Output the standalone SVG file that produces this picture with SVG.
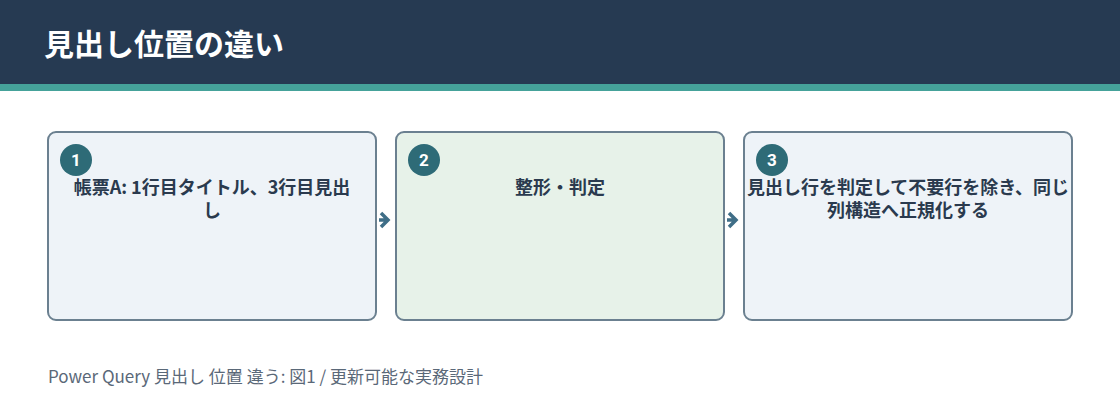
<svg xmlns="http://www.w3.org/2000/svg" width="1120" height="420" viewBox="0 0 1120 420">
<style>
.box{stroke:#6b8090;stroke-width:2}
.b1{fill:#eef3f8}
.b2{fill:#e7f2e9}
.badge{fill:#2e6b77}
.num{font-family:"Roboto","Liberation Sans",sans-serif;font-size:17px;font-weight:bold;fill:#ffffff;text-anchor:middle}
.lbl{font-family:"Noto Sans CJK JP","Noto Sans",sans-serif;font-size:18px;font-weight:bold;fill:#2a3a4e;text-anchor:middle}
.conn{stroke:#3f6e87;stroke-width:3.5;fill:none;stroke-linejoin:miter}
</style>
<rect x="0" y="0" width="1120" height="84" fill="#263a52"/>
<rect x="0" y="84" width="1120" height="7" fill="#45a29a"/>
<text x="44" y="55" font-family="Noto Sans CJK JP, Noto Sans, sans-serif" font-size="30" font-weight="bold" fill="#ffffff">見出し位置の違い</text>
<g id="connectors">
<path class="conn" d="M381,213 L388,220 L381,227 M379,220 L387,220"/>
<path class="conn" d="M729,213 L736,220 L729,227 M727,220 L735,220"/>
</g>
<g id="node1">
<rect class="box b1" x="48" y="132" width="328" height="188" rx="8"/>
<circle class="badge" cx="76" cy="160" r="16"/>
<text class="num" x="76" y="166">1</text>
<text class="lbl" x="212" y="194">帳票A: 1行目タイトル、3行目見出</text>
<text class="lbl" x="212" y="217">し</text>
</g>
<g id="node2">
<rect class="box b2" x="396" y="132" width="328" height="188" rx="8"/>
<circle class="badge" cx="424" cy="160" r="16"/>
<text class="num" x="424" y="166">2</text>
<text class="lbl" x="560" y="194">整形・判定</text>
</g>
<g id="node3">
<rect class="box b1" x="744" y="132" width="328" height="188" rx="8"/>
<circle class="badge" cx="772" cy="160" r="16"/>
<text class="num" x="772" y="166">3</text>
<text class="lbl" x="908" y="194">見出し行を判定して不要行を除き、同じ</text>
<text class="lbl" x="908" y="217">列構造へ正規化する</text>
</g>
<text x="48" y="383" font-family="Noto Sans CJK JP, Noto Sans, sans-serif" font-size="17" fill="#5a6878">Power Query 見出し 位置 違う: 図1 / 更新可能な実務設計</text>
</svg>
